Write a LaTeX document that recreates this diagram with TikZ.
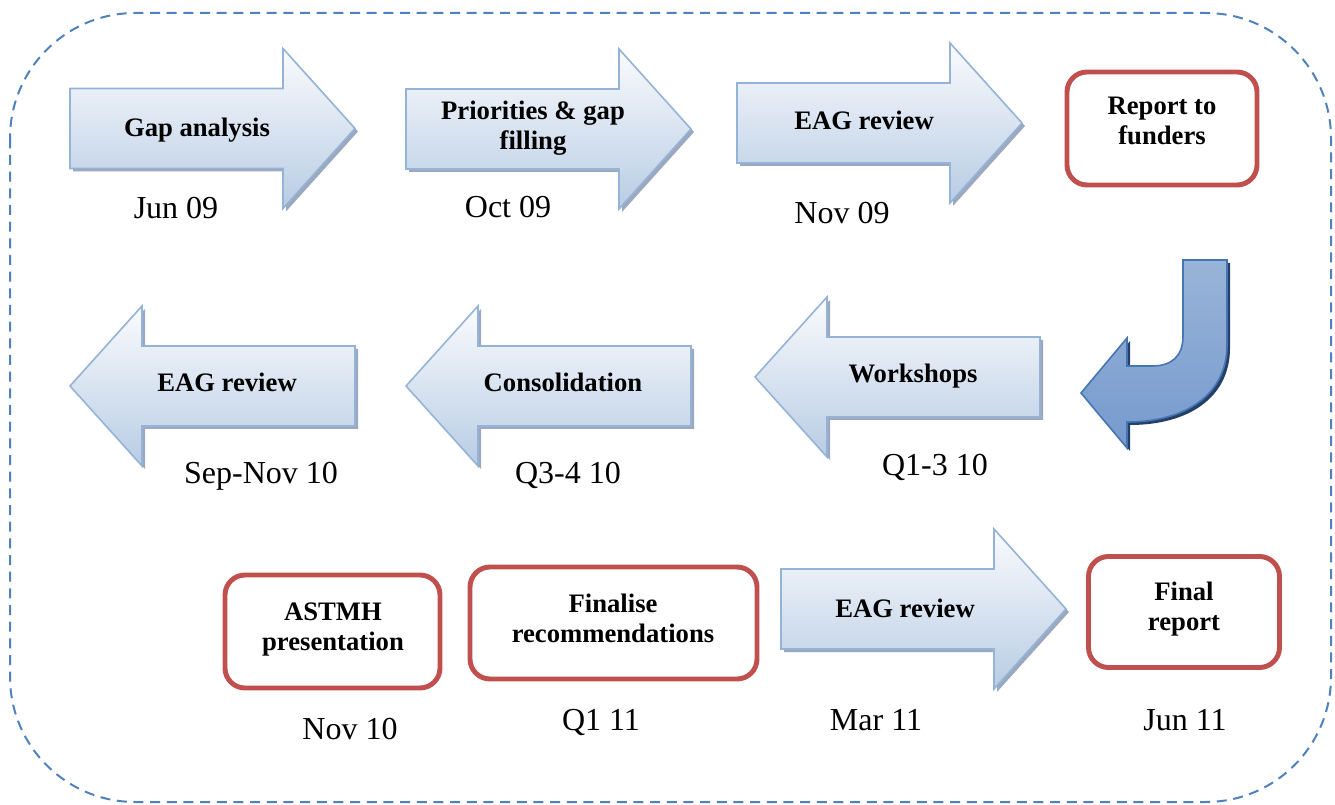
\documentclass[tikz,border=0pt]{standalone}
\usepackage{fontspec}
\setmainfont{Liberation Serif}

\definecolor{arrline}{RGB}{149,179,215}
\definecolor{arrtop}{RGB}{250,251,253}
\definecolor{arrbot}{RGB}{184,204,228}
\definecolor{arrshade}{RGB}{138,153,178}
\definecolor{boxred}{RGB}{192,80,77}
\definecolor{frameblue}{RGB}{79,129,189}
\definecolor{curvtop}{RGB}{152,180,216}
\definecolor{curvmid}{RGB}{74,124,188}
\definecolor{curvbot}{RGB}{118,154,206}
\definecolor{curvline}{RGB}{70,118,178}
\definecolor{curvshade}{RGB}{36,64,104}

% right- and left-pointing block arrows (end x, centre y)
\newcommand{\rarr}[2]{%
  \fill[arrshadow,shift={(#1+3,#2+3)}] (0,-40) -- (213,-40) -- (213,-80) -- (285,0) -- (213,80) -- (213,40) -- (0,40) -- cycle;
  \draw[arrbody,shift={(#1,#2)}] (0,-40) -- (213,-40) -- (213,-80) -- (285,0) -- (213,80) -- (213,40) -- (0,40) -- cycle;}
\newcommand{\larr}[2]{%
  \fill[arrshadow,shift={(#1+3,#2+3)}] (0,0) -- (72,-80) -- (72,-40) -- (285,-40) -- (285,40) -- (72,40) -- (72,80) -- cycle;
  \draw[arrbody,shift={(#1,#2)}] (0,0) -- (72,-80) -- (72,-40) -- (285,-40) -- (285,40) -- (72,40) -- (72,80) -- cycle;}

\begin{document}
\begin{tikzpicture}[x=0.75pt,y=0.75pt,yscale=-1,xscale=1,
    arrbody/.style={draw=arrline,line width=1.2pt,top color=arrtop,bottom color=arrbot},
    arrshadow/.style={fill=arrshade,opacity=0.85},
    lbl/.style={anchor=base,inner sep=0pt,align=center,font=\fontsize{20}{22.5}\selectfont\bfseries},
    datelbl/.style={anchor=base,inner sep=0pt,font=\fontsize{24}{28}\selectfont},
    redbox/.style={draw=boxred,line width=3.7pt,rounded corners=15pt,inner sep=0pt},
    frame/.style={draw=frameblue,line width=1.5pt,dash pattern=on 7.5pt off 5pt,rounded corners=94pt}]
  \useasboundingbox (0,0) rectangle (1335,805);
  \draw[frame] (10,13) rectangle (1331,802);

  % row 1
  \rarr{70}{128.5}
  \rarr{406}{129}
  \rarr{737}{123}
  \node[lbl] (gap) at (197,137) {Gap analysis};
  \node[lbl] (prio) at (533,150) {Priorities \& gap\\filling};
  \node[lbl] (eaga) at (864,130) {EAG review};
  \node[redbox,minimum width=142.5pt,minimum height=84.75pt] (funders) at (1162,128.5) {};
  \node[lbl] (funderst) at (1162,145) {Report to\\funders};
  \node[datelbl] (jun09) at (176,219) {Jun 09};
  \node[datelbl] (oct09) at (508,218) {Oct 09};
  \node[datelbl] (nov09) at (842,224) {Nov 09};

  % turn
  \fill[curvshade,shift={(3,3)}] (1183,260) -- (1227,260) -- (1227,345) .. controls (1227,395) and (1185,422) .. (1127,422) -- (1127,448) -- (1081,393) -- (1127,338) -- (1127,366) -- (1152,366) .. controls (1172,366) and (1183,356) .. (1183,336) -- cycle;
  \draw[draw=curvline,line width=1.2pt,top color=curvtop,middle color=curvmid,bottom color=curvbot] (1183,260) -- (1227,260) -- (1227,345) .. controls (1227,395) and (1185,422) .. (1127,422) -- (1127,448) -- (1081,393) -- (1127,338) -- (1127,366) -- (1152,366) .. controls (1172,366) and (1183,356) .. (1183,336) -- cycle;

  % row 2
  \larr{70}{386}
  \larr{406}{386}
  \larr{755}{377}
  \node[lbl] (eagb) at (227,392) {EAG review};
  \node[lbl] (consol) at (563,392) {Consolidation};
  \node[lbl] (work) at (913,383) {Workshops};
  \node[datelbl] (sepnov10) at (261,483) {Sep-Nov 10};
  \node[datelbl] (q3410) at (568,483) {Q3-4 10};
  \node[datelbl] (q1310) at (935,475) {Q1-3 10};

  % row 3
  \node[redbox,minimum width=161.25pt,minimum height=84.75pt] (astmh) at (332.5,631.5) {};
  \node[lbl] (astmht) at (333,650) {ASTMH\\presentation};
  \node[redbox,minimum width=215.25pt,minimum height=84pt] (finalise) at (613.5,623) {};
  \node[lbl] (finaliset) at (613,642) {Finalise\\recommendations};
  \rarr{781}{609}
  \node[lbl] (eagc) at (905,617) {EAG review};
  \node[redbox,minimum width=143.25pt,minimum height=83.25pt] (final) at (1184,612) {};
  \node[lbl] (finalt) at (1184,630) {Final\\report};
  \node[datelbl] (nov10) at (350,739) {Nov 10};
  \node[datelbl] (q111) at (601,730) {Q1 11};
  \node[datelbl] (mar11) at (876,730) {Mar 11};
  \node[datelbl] (jun11) at (1185,730) {Jun 11};
\end{tikzpicture}
\end{document}
